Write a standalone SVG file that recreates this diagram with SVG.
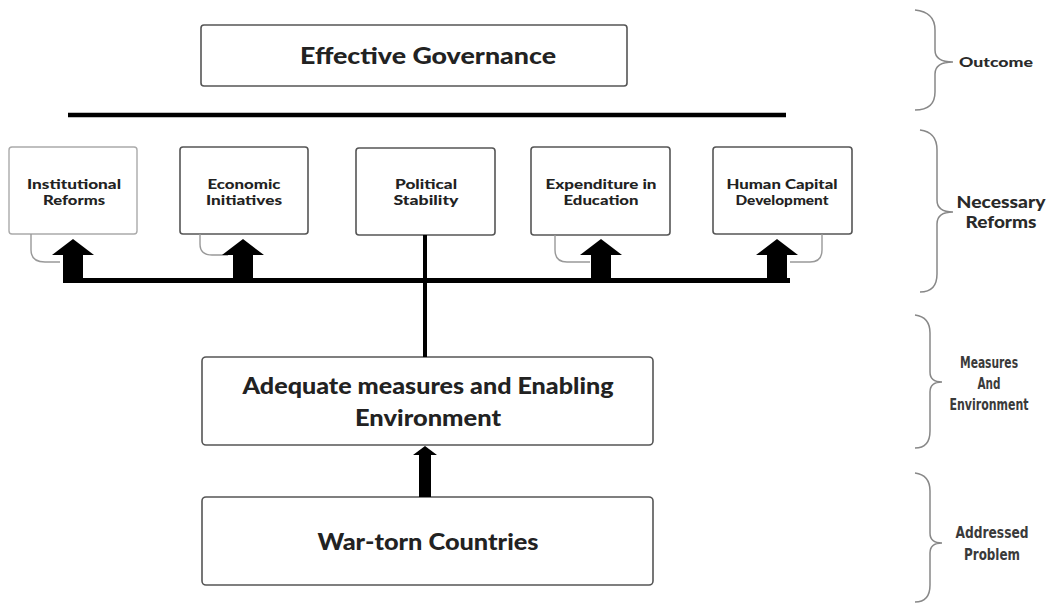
<svg xmlns="http://www.w3.org/2000/svg" width="1057" height="611" viewBox="0 0 1057 611">
<style>
.box{fill:#fff;stroke:#555;stroke-width:1.6}
.lbox{fill:#fff;stroke:#aaa;stroke-width:1.4}
.t{font-family:Lato,"Noto Sans",sans-serif;font-weight:900;fill:#222;text-anchor:middle}
.big{font-size:22px}
.sm{font-size:14px}
.hook{fill:none;stroke:#999;stroke-width:1.4}
.brace{fill:none;stroke:#888;stroke-width:1.5}
.bl{font-family:Lato,"Noto Sans",sans-serif;font-weight:900;fill:#2a2a2a;text-anchor:middle}
.cond{font-family:"DejaVu Sans Condensed","DejaVu Sans",sans-serif;font-stretch:condensed;font-weight:bold;font-size:15px;fill:#3a3a3a;text-anchor:middle}
.arr{fill:#000}
</style>
<rect width="1057" height="611" fill="#fff"/>

<g id="effective-governance">
<rect class="box" x="201" y="25" width="426" height="61" rx="3"/>
<text class="t big" x="428" y="64" textLength="256" lengthAdjust="spacingAndGlyphs">Effective Governance</text>
</g>

<g id="institutional-reforms">
<rect class="lbox" x="9" y="147" width="128" height="87" rx="3"/>
<text class="t sm" x="74" y="189" textLength="94" lengthAdjust="spacingAndGlyphs">Institutional</text>
<text class="t sm" x="74" y="205" textLength="62" lengthAdjust="spacingAndGlyphs">Reforms</text>
</g>
<g id="economic-initiatives">
<rect class="box" x="180" y="147" width="128" height="87" rx="3"/>
<text class="t sm" x="244" y="189" textLength="73" lengthAdjust="spacingAndGlyphs">Economic</text>
<text class="t sm" x="244" y="205" textLength="76" lengthAdjust="spacingAndGlyphs">Initiatives</text>
</g>
<g id="political-stability">
<rect class="box" x="356" y="148" width="139" height="87" rx="3"/>
<text class="t sm" x="426" y="189" textLength="62" lengthAdjust="spacingAndGlyphs">Political</text>
<text class="t sm" x="426" y="205" textLength="65" lengthAdjust="spacingAndGlyphs">Stability</text>
</g>
<g id="expenditure-education">
<rect class="box" x="531" y="147" width="139" height="88" rx="3"/>
<text class="t sm" x="601" y="189" textLength="111" lengthAdjust="spacingAndGlyphs">Expenditure in</text>
<text class="t sm" x="601" y="205" textLength="75" lengthAdjust="spacingAndGlyphs">Education</text>
</g>
<g id="human-capital">
<rect class="box" x="713" y="147" width="139" height="87" rx="3"/>
<text class="t sm" x="782" y="189" textLength="111" lengthAdjust="spacingAndGlyphs">Human Capital</text>
<text class="t sm" x="782" y="205" textLength="93" lengthAdjust="spacingAndGlyphs">Development</text>
</g>

<g id="adequate-measures">
<rect class="box" x="202" y="357" width="451" height="88" rx="4"/>
<text class="t big" x="428" y="394" textLength="371" lengthAdjust="spacingAndGlyphs">Adequate measures and Enabling</text>
<text class="t big" x="428" y="426" textLength="146" lengthAdjust="spacingAndGlyphs">Environment</text>
</g>
<g id="war-torn">
<rect class="box" x="202" y="497" width="451" height="88" rx="4"/>
<text class="t big" x="428" y="550" textLength="221" lengthAdjust="spacingAndGlyphs">War-torn Countries</text>
</g>

<g id="connectors">
<line x1="68" y1="115" x2="786" y2="115" stroke="#000" stroke-width="4.5"/>
<line x1="425" y1="235" x2="425" y2="357" stroke="#000" stroke-width="4"/>
<line x1="63" y1="280.5" x2="790" y2="280.5" stroke="#000" stroke-width="5"/>
<path class="hook" d="M31,234 L31,250 Q31,262 45,262 L60,262"/>
<path class="hook" d="M200,234 L200,244 Q200,255 212,255 L228,255"/>
<path class="hook" d="M555,235 L555,250 Q555,262 567,262 L590,262"/>
<path class="hook" d="M822,234 L822,250 Q822,262 810,262 L790,262"/>
<polygon class="arr" points="63,283 63,255 52,255 73,239 94,255 83,255 83,283"/>
<polygon class="arr" points="233,283 233,255 222,255 243,239 264,255 253,255 253,283"/>
<polygon class="arr" points="591,283 591,255 580,255 601,239 622,255 611,255 611,283"/>
<polygon class="arr" points="767,283 767,255 756,255 777,239 798,255 787,255 787,283"/>
<polygon class="arr" points="419,497 419,455 413,455 425,446 437,455 431,455 431,497"/>
</g>

<g id="brace-outcome">
<path class="brace" d="M915,10 Q935,12 935,30 L935,50 Q935,62 953,62 Q935,62 935,74 L935,92 Q935,110 915,110"/>
<text class="bl" x="996" y="67" font-size="14" textLength="74" lengthAdjust="spacingAndGlyphs">Outcome</text>
</g>
<g id="brace-reforms">
<path class="brace" d="M920,130 Q937,132 937,150 L937,200 Q937,212 953,212 Q937,212 937,224 L937,274 Q937,292 920,292"/>
<text class="bl" x="1001" y="208" font-size="16" textLength="89" lengthAdjust="spacingAndGlyphs">Necessary</text>
<text class="bl" x="1001" y="228" font-size="16" textLength="71" lengthAdjust="spacingAndGlyphs">Reforms</text>
</g>
<g id="brace-measures">
<path class="brace" d="M915,315 Q930,317 930,333 L930,372 Q930,382 942,382 Q930,382 930,392 L930,431 Q930,448 915,448"/>
<text class="cond" x="989" y="368" textLength="58" lengthAdjust="spacingAndGlyphs">Measures</text>
<text class="cond" x="989" y="389" textLength="23" lengthAdjust="spacingAndGlyphs">And</text>
<text class="cond" x="989" y="410" textLength="79" lengthAdjust="spacingAndGlyphs">Environment</text>
</g>
<g id="brace-problem">
<path class="brace" d="M915,473 Q930,475 930,491 L930,533 Q930,543 942,543 Q930,543 930,553 L930,585 Q930,602 915,602"/>
<text class="cond" x="992" y="538" textLength="73" lengthAdjust="spacingAndGlyphs">Addressed</text>
<text class="cond" x="992" y="560" textLength="56" lengthAdjust="spacingAndGlyphs">Problem</text>
</g>
</svg>
